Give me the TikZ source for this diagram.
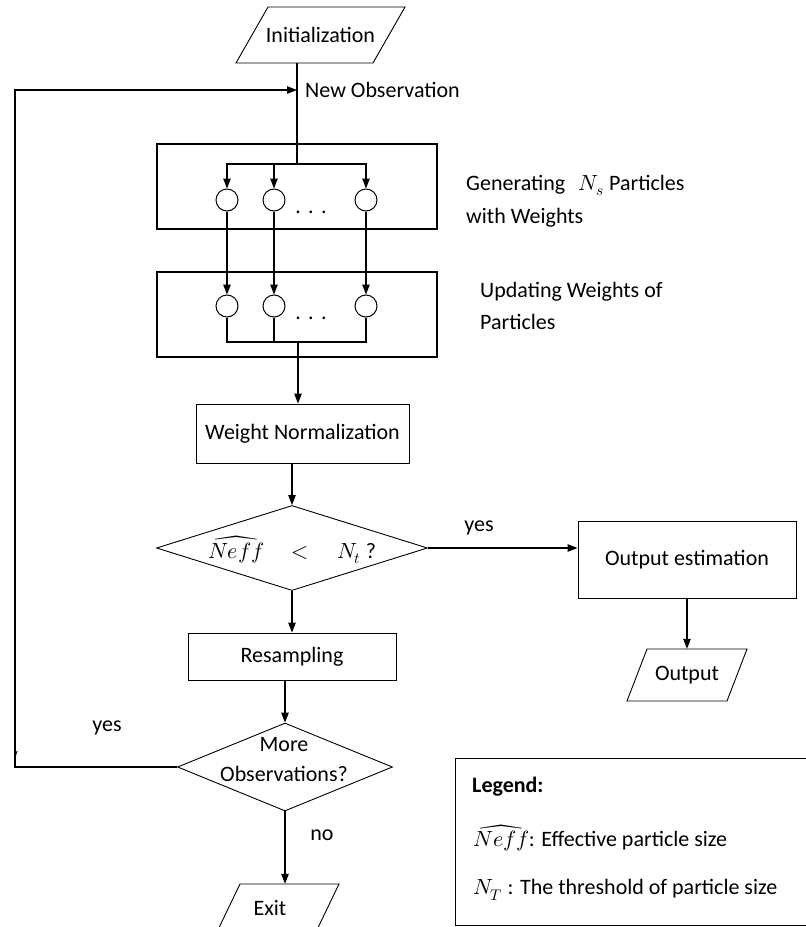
\documentclass[tikz,border=0pt]{standalone}
\usepackage{fontspec}
\usepackage{unicode-math}
\setmainfont{Carlito}
\setmathfont{Latin Modern Math}
\usetikzlibrary{shapes.geometric,arrows.meta}
\begin{document}
\begin{tikzpicture}[x=1pt,y=-1pt,
  font=\fontsize{22}{26}\selectfont,
  wire/.style={line width=1.1pt},
  arr/.style={wire,-{Triangle[length=10pt,width=7.5pt]}},
  bigbox/.style={draw,line width=1.8pt,minimum width=280pt,minimum height=85pt,inner sep=0pt},
  proc/.style={draw,line width=0.9pt,inner sep=2pt},
  part/.style={draw,circle,line width=1pt,minimum size=22pt,inner sep=0pt},
  iotext/.style={inner sep=0pt},
  iobox/.style={line width=0.9pt,line join=miter},
  decision/.style={draw,diamond,line width=0.9pt,inner sep=0pt},
  lbl/.style={inner sep=0pt}
]
\useasboundingbox (0,0) rectangle (806,927);
\clip (0,0) rectangle (806,927);

% start
\node[iotext,minimum width=137pt,minimum height=56pt] (init) at (320.5,35) {Initialization};
\draw[iobox] ([shift={(-84.5,28)}]init.center) -- ([shift={(52.5,28)}]init.center)
  -- ([shift={(84.5,-28)}]init.center) -- ([shift={(-52.5,-28)}]init.center) -- cycle;

% particle boxes
\node[bigbox] (box1) at (297,186.5) {};
\node[bigbox] (box2) at (297,314.5) {};
\node[part] (p11) at (227,200) {};
\node[part] (p12) at (274,200) {};
\node[part] (p13) at (366,200) {};
\node[part] (p21) at (227,306) {};
\node[part] (p22) at (274,306) {};
\node[part] (p23) at (366,306) {};
\node[lbl,anchor=base] (dots1) at (311,213) {.\,\,.\,\,.};
\node[lbl,anchor=base] (dots2) at (311,319) {.\,\,.\,\,.};

\node[lbl,anchor=west,align=left,font=\fontsize{22}{33}\selectfont] (gen) at (466,201) {Generating \ \,$N_s$ Particles\\with Weights};
\node[lbl,anchor=west,align=left,font=\fontsize{22}{32}\selectfont] (upd) at (480,306) {Updating Weights of\\Particles};

% process boxes
\node[proc,minimum width=213pt,minimum height=59pt] (wn) at (302.5,433.5) {Weight Normalization};
\node[decision,minimum width=271pt,minimum height=85pt] (d1) at (292,548) {};
\node[lbl] (d1t) at (292,550) {$\widehat{Neff}\quad<\quad N_t$ ?};
\node[proc,minimum width=208pt,minimum height=47pt] (rs) at (292,656.5) {Resampling};
\node[decision,minimum width=215pt,minimum height=88pt] (d2) at (285,767) {};
\node[lbl,align=center,font=\fontsize{22}{30}\selectfont] (d2t) at (284,760) {More\\Observations?};
\node[iotext,minimum width=99pt,minimum height=48pt] (exit) at (270,908) {Exit};
\draw[iobox] ([shift={(-55,28)}]exit.center) -- ([shift={(44,28)}]exit.center)
  -- ([shift={(69,-24)}]exit.center) -- ([shift={(-30,-24)}]exit.center) -- cycle;

\node[proc,minimum width=218pt,minimum height=77pt] (oe) at (687,559.5) {Output estimation};
\node[iotext,minimum width=100pt,minimum height=52pt] (out) at (687,675) {Output};
\draw[iobox] ([shift={(-60,26)}]out.center) -- ([shift={(40,26)}]out.center)
  -- ([shift={(60,-26)}]out.center) -- ([shift={(-40,-26)}]out.center) -- cycle;

% legend
\node[draw,line width=0.9pt,minimum width=360pt,minimum height=167pt] (legend) at (635,841.5) {};
\node[lbl,anchor=west,font=\fontsize{22}{26}\selectfont\bfseries] (lg1) at (472,787) {Legend:};
\node[lbl,anchor=west] (lg2) at (473,838) {$\widehat{Neff}$: Effective particle size};
\node[lbl,anchor=west] (lg3) at (473,890) {$N_T$ : The threshold of particle size};

% labels
\node[lbl,anchor=west] (newobs) at (305,90) {New Observation};
\node[lbl] (yes1) at (479,528) {yes};
\node[lbl] (yes2) at (107,728) {yes};
\node[lbl] (no) at (322,835) {no};

% connectors
\coordinate (split1) at (297,164);
\coordinate (obs) at (297,90);
\coordinate (lc) at (15,90);
\coordinate (join) at (298,342);
\draw[wire] (split1 |- init.south) -- (split1);
\draw[arr] (split1) -| (p11);
\draw[arr] (split1) -| (p12);
\draw[arr] (split1) -| (p13);
\draw[arr] (p11) -- (p21);
\draw[arr] (p12) -- (p22);
\draw[arr] (p13) -- (p23);
\draw[wire] (p21) |- (join);
\draw[wire] (p23) |- (join);
\draw[wire] (p22) -- (p22 |- join);
\draw[arr] (join) -- (join |- wn.north);
\draw[arr] (wn.south -| d1.north) -- (d1.north);
\draw[arr] (d1) -- (rs);
\draw[arr] (d1.east) -- (d1.east -| oe.west);
\draw[arr] (oe) -- (out);
\draw[arr] (rs.south -| d2.north) -- (d2.north);
\draw[arr] (d2.south) -- (d2.south |- exit.north);
\draw[arr] (d2.west) -| (lc) -- (obs);
\coordinate (tick) at (15,757);
\draw[line width=0.8pt] (tick) -- ++(2.3,-6.3);
\end{tikzpicture}
\end{document}
